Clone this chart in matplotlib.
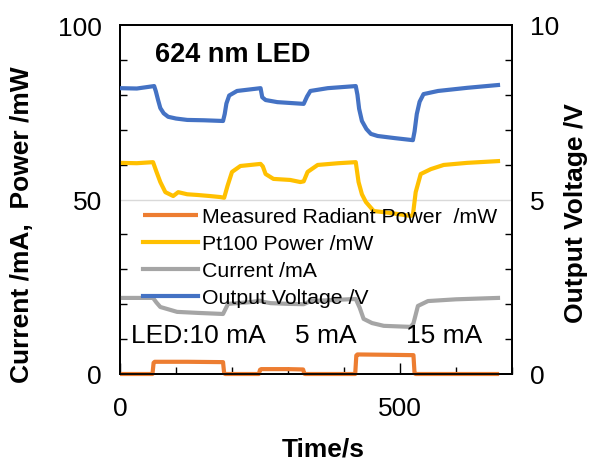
import matplotlib
matplotlib.use("Agg")
import matplotlib.pyplot as plt
from matplotlib.ticker import MultipleLocator, FixedLocator

plt.rcParams['font.family'] = ['Liberation Sans', 'DejaVu Sans']

# ---- data ----
t_rad = [0, 58, 60, 62, 120, 184, 186, 188, 248, 250, 252, 300, 327, 329, 331, 420, 422, 424, 480, 524, 526, 528, 677]
p_rad = [0, 0, 3.2, 3.5, 3.5, 3.4, 0.2, 0, 0, 1.2, 1.4, 1.4, 1.3, 0.1, 0, 0, 5.3, 5.6, 5.5, 5.4, 0.2, 0, 0]

t_pt = [0, 30, 59, 65, 72, 81, 95, 104, 120, 138, 160, 179, 186, 192, 200, 215, 251, 255,
        260, 274, 304, 322, 328, 335, 353, 390, 421, 426, 432, 439, 453, 480, 519, 523,
        528, 537, 555, 578, 620, 675]
p_pt = [60.5, 60.4, 60.7, 58.0, 55.0, 52.1, 51.0, 52.1, 51.5, 51.3, 51.0, 50.7, 50.5, 53.9, 57.9, 59.6, 60.2, 59.5,
        57.3, 55.9, 55.6, 55.0, 55.2, 57.9, 59.9, 60.4, 60.7, 55.0, 51.5, 49.3, 46.7, 46.2, 45.3, 45.5,
        52.1, 57.3, 58.7, 59.9, 60.5, 61.0]

t_cur = [0, 59, 65, 72, 102, 140, 184, 188, 193, 233, 250, 258, 269, 300, 328, 335, 340, 421, 428, 435, 450, 471, 519, 524,
         532, 550, 600, 675]
i_cur = [21.8, 21.8, 20.5, 19.2, 17.8, 17.5, 17.2, 18.5, 20.1, 20.6, 21.0, 20.6, 20.3, 20.1, 20.0, 20.5, 20.9, 21.5, 19.0, 15.8, 14.6, 13.8, 13.5, 14.5,
         19.5, 20.9, 21.4, 21.8]

t_volt = [0, 30, 61, 64, 68, 72, 78, 86, 100, 120, 150, 184, 187, 190, 195, 209, 251, 254, 260, 281, 328, 334, 340, 371, 421, 424,
          427, 432, 440, 448, 460, 490, 523, 526, 530, 535, 542, 568, 620, 675]
v_volt = [8.19, 8.18, 8.25, 8.1, 7.85, 7.62, 7.47, 7.37, 7.32, 7.28, 7.27, 7.25, 7.45, 7.75, 7.98, 8.11, 8.19, 7.93, 7.85, 7.79, 7.74, 7.95, 8.11, 8.19, 8.25, 8.0,
          7.6, 7.25, 7.02, 6.88, 6.82, 6.76, 6.70, 6.95, 7.45, 7.8, 8.02, 8.11, 8.2, 8.28]

labels = ["Measured Radiant Power  /mW", "Pt100 Power /mW", "Current /mA", "Output Voltage /V"]
colors = ["#ED7D31", "#FFC000", "#A5A5A5", "#4472C4"]
annots = ["LED:10 mA", "5 mA", "15 mA"]
annot_t = [20, 313, 510]

# ---- figure ----
fig = plt.figure(figsize=(5.9, 4.64), dpi=100)
ax = fig.add_axes([120/590, 1-375/464, 392/590, 349/464])
ax2 = ax.twinx()

ax.set_xlim(0, 700)
ax.set_ylim(0, 100)
ax2.set_ylim(0, 10)

ax.axhline(50, color="#D9D9D9", lw=1.0, zorder=0)

lw = 3.0
l1, = ax.plot(t_rad, p_rad, color=colors[0], lw=lw, clip_on=False, zorder=3, solid_capstyle='butt')
l2, = ax.plot(t_pt, p_pt, color=colors[1], lw=lw, zorder=3)
l3, = ax.plot(t_cur, i_cur, color=colors[2], lw=lw, zorder=3)
l4, = ax2.plot(t_volt, v_volt, color=colors[3], lw=lw, zorder=3)

fs = 19
ax.xaxis.set_major_locator(FixedLocator([0, 500]))
ax.xaxis.set_minor_locator(MultipleLocator(100))
ax.yaxis.set_major_locator(FixedLocator([0, 50, 100]))
ax.yaxis.set_minor_locator(MultipleLocator(10))
ax2.yaxis.set_major_locator(FixedLocator([0, 5, 10]))
ax2.yaxis.set_minor_locator(MultipleLocator(1))

ax.tick_params(axis='x', which='major', direction='in', length=8, width=1, labelsize=fs, pad=16)
ax.tick_params(axis='x', which='minor', direction='in', length=5, width=1)
ax.tick_params(axis='y', which='major', direction='in', length=0, labelsize=fs, pad=13)
ax.tick_params(axis='y', which='minor', direction='in', length=5, width=1)
ax2.tick_params(axis='y', which='major', direction='in', length=0, labelsize=fs, pad=13)
ax2.tick_params(axis='y', which='minor', direction='in', length=5, width=1)

for a in (ax, ax2):
    for s in a.spines.values():
        s.set_linewidth(1.3)
        s.set_color('black')

ax.text(63, 89.7, "624 nm LED", fontsize=19.5, fontweight='bold', va='baseline', ha='left')
for s, tx in zip(annots, annot_t):
    ax.text(tx, 9.2, s, fontsize=fs, va='baseline', ha='left', zorder=5)

fig.text(22/590, 1-225/464, "Current /mA,  Power /mW", rotation=90, fontsize=fs, fontweight='bold',
         ha='center', va='center')
fig.text(576/590, 1-213/464, "Output Voltage /V", rotation=90, fontsize=fs, fontweight='bold',
         ha='center', va='center')
fig.text(323/590, 1-450/464, "Time/s", fontsize=fs, fontweight='bold', ha='center', va='center')

leg = ax2.legend([l1, l2, l3, l4], labels, loc='upper left', bbox_to_anchor=((143-120)/392, (375-208)/349),
                 frameon=False, fontsize=15.3, handlelength=2.6, handletextpad=0.2, labelspacing=0.38,
                 borderpad=0, borderaxespad=0)
leg.set_zorder(4)

fig.savefig("out.png", dpi=100)
